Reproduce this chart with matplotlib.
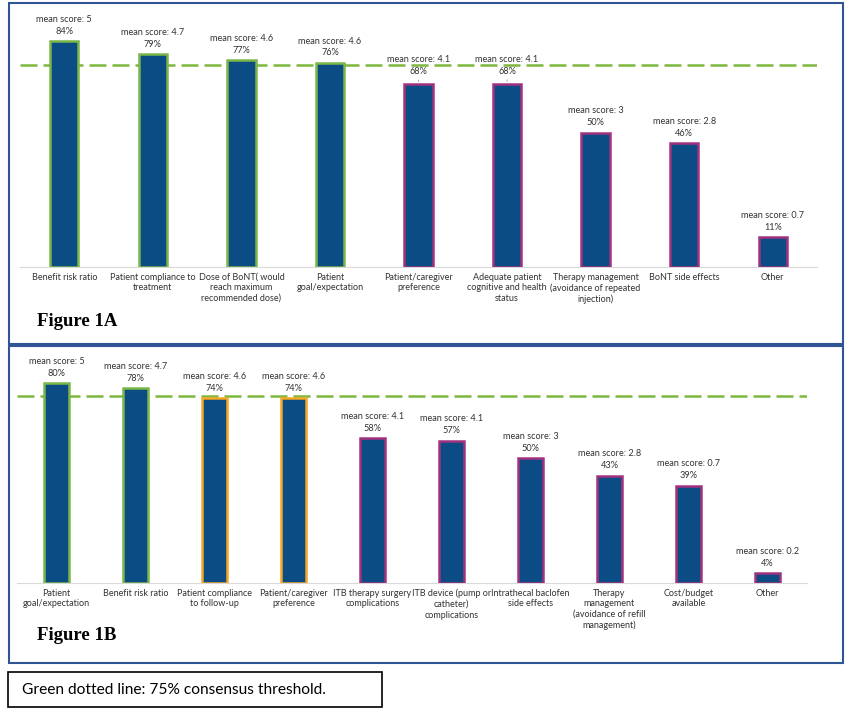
import matplotlib
matplotlib.use("Agg")
import matplotlib.pyplot as plt
from matplotlib.patches import Rectangle

# Figure 1A data
cats_a = ["Benefit risk ratio", "Patient compliance to\ntreatment",
          "Dose of BoNT( would\nreach maximum\nrecommended dose)",
          "Patient\ngoal/expectation", "Patient/caregiver\npreference",
          "Adequate patient\ncognitive and health\nstatus",
          "Therapy management\n(avoidance of repeated\ninjection)",
          "BoNT side effects", "Other"]
pct_a = [84, 79, 77, 76, 68, 68, 50, 46, 11]
mean_a = ["5", "4.7", "4.6", "4.6", "4.1", "4.1", "3", "2.8", "0.7"]
edge_a = ["green"] * 4 + ["purple"] * 5

# Figure 1B data
cats_b = ["Patient\ngoal/expectation", "Benefit risk ratio",
          "Patient compliance\nto follow-up", "Patient/caregiver\npreference",
          "ITB therapy surgery\ncomplications",
          "ITB device (pump or\ncatheter)\ncomplications",
          "Intrathecal baclofen\nside effects",
          "Therapy\nmanagement\n(avoidance of refill\nmanagement)",
          "Cost/budget\navailable", "Other"]
pct_b = [80, 78, 74, 74, 58, 57, 50, 43, 39, 4]
mean_b = ["5", "4.7", "4.6", "4.6", "4.1", "4.1", "3", "2.8", "0.7", "0.2"]
edge_b = ["green"] * 2 + ["orange"] * 2 + ["purple"] * 6

threshold = 75

colors = {"green": "#7AB648", "purple": "#A2327F", "orange": "#F5A623"}
bar_color = "#0B4C85"
W, H = 864, 714

plt.rcParams['font.family'] = ['Lato', 'DejaVu Sans']

fig = plt.figure(figsize=(W / 100, H / 100), dpi=100)


def px_rect(x0, y0, x1, y1, color, lw):
    r = Rectangle((x0 / W, 1 - y1 / H), (x1 - x0) / W, (y1 - y0) / H,
                  transform=fig.transFigure, fill=False, edgecolor=color, linewidth=lw)
    fig.add_artist(r)


def panel(rect, cats, pct, means, edges, lifted=()):
    ax = fig.add_axes(rect)
    x = range(len(cats))
    ax.bar(x, pct, width=0.32, color=bar_color,
           edgecolor=[colors[e] for e in edges], linewidth=1.8, zorder=3)
    ax.set_xlim(-0.5, len(cats) - 0.5)
    ax.set_ylim(0, 100)
    ax.axhline(threshold, color="#7DB83E", linewidth=1.8,
               linestyle=(0, (6.8, 2.4)), zorder=2)
    for i, (p, m) in enumerate(zip(pct, means)):
        extra = 2 if i in lifted else 0
        ax.annotate(f"{p}%", (i, p), xytext=(0, 7 + extra), textcoords="offset points",
                    ha="center", va="center", fontsize=6.6, color="#333333")
        ax.annotate(f"mean score: {m}", (i, p), xytext=(0, 15.5 + extra),
                    textcoords="offset points", ha="center", va="center",
                    fontsize=6.6, color="#333333")
        if i in lifted:
            ax.annotate("", (i, p), xytext=(0, 5), textcoords="offset points",
                        arrowprops=dict(arrowstyle="-", color="#999999", lw=0.6))
    ax.set_xticks(list(x))
    ax.set_xticklabels(cats, fontsize=6.5, color="#333333", linespacing=1.25)
    ax.tick_params(axis="x", length=0, pad=4)
    ax.set_yticks([])
    for s in ["top", "left", "right"]:
        ax.spines[s].set_visible(False)
    ax.spines["bottom"].set_color("#D9D9D9")
    ax.spines["bottom"].set_linewidth(0.8)
    return ax


panel([20 / W, 1 - 267 / H, 797 / W, 269 / H], cats_a, pct_a, mean_a, edge_a,
      lifted=(4, 5))
panel([17 / W, 1 - 583 / H, 790 / W, 250 / H], cats_b, pct_b, mean_b, edge_b)

# panel frames
px_rect(9, 3, 843, 344, "#2F5597", 1.5)
px_rect(9, 346, 843, 663, "#2F5597", 1.5)
px_rect(8, 672, 382, 707, "black", 1.2)

fig.text(37 / W, 1 - 322 / H, "Figure 1A", fontsize=13.5, fontweight="bold",
         family="Liberation Serif", va="center", ha="left")
fig.text(37 / W, 1 - 636 / H, "Figure 1B", fontsize=13.5, fontweight="bold",
         family="Liberation Serif", va="center", ha="left")
fig.text(22 / W, 1 - 690 / H, "Green dotted line: 75% consensus threshold.",
         fontsize=11.2, va="center", ha="left", color="black")

fig.savefig("out.png", dpi=100, facecolor="white")
